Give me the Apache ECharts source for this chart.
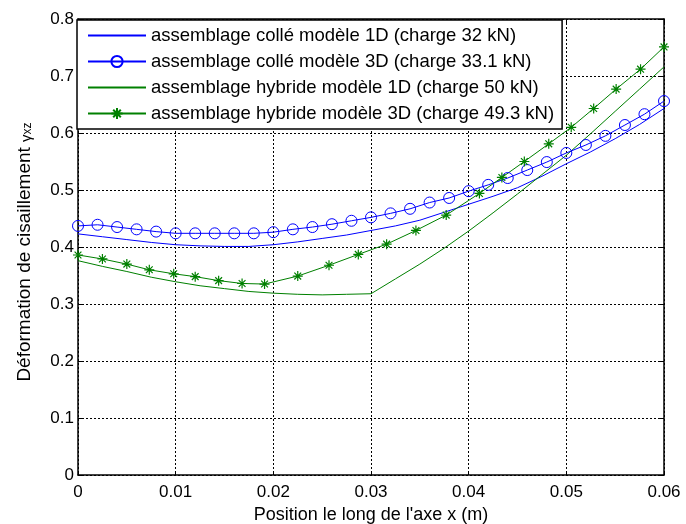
<!DOCTYPE html>
<html>
<head>
<meta charset="utf-8">
<script src="https://cdn.jsdelivr.net/npm/echarts@6/dist/echarts.min.js"></script>
<style>html,body{margin:0;padding:0;background:#fff;}#c{width:686px;height:524px;}</style>
</head>
<body>
<div id="c"></div>
<script>
const xTickLabels = ['0','0.01','0.02','0.03','0.04','0.05','0.06'];
const yTickLabels = ['0','0.1','0.2','0.3','0.4','0.5','0.6','0.7','0.8'];

const seriesNames = [
  'assemblage collé modèle 1D (charge 32 kN)',
  'assemblage collé modèle 3D (charge 33.1 kN)',
  'assemblage hybride modèle 1D (charge 50 kN)',
  'assemblage hybride modèle 3D (charge 49.3 kN)'
];

const colle1dX = [0,0.0025,0.005,0.0075,0.01,0.0125,0.015,0.0175,0.02,0.0225,0.025,0.0275,0.03,
                  0.0325,0.035,0.0375,0.04,0.0425,0.045,0.0475,0.05,0.0525,0.055,0.0575,0.06];
const colle1dY = [0.423,0.418,0.413,0.408,0.404,0.402,0.401,0.401,0.404,0.409,0.415,0.421,0.429,
                  0.437,0.447,0.461,0.475,0.489,0.504,0.524,0.546,0.567,0.590,0.615,0.643];

const colle3dX = [0,0.002,0.004,0.006,0.008,0.010,0.012,0.014,0.016,0.018,0.020,0.022,0.024,0.026,0.028,0.030,
                  0.032,0.034,0.036,0.038,0.040,0.042,0.044,0.046,0.048,0.050,0.052,0.054,0.056,0.058,0.060];
const colle3dY = [0.437,0.439,0.435,0.431,0.427,0.424,0.424,0.424,0.424,0.424,0.426,0.431,0.435,0.440,0.446,0.452,
                  0.459,0.467,0.478,0.486,0.498,0.509,0.521,0.535,0.549,0.565,0.579,0.595,0.614,0.633,0.656];

const hybr1dX = [0,0.0025,0.005,0.0075,0.01,0.0125,0.015,0.0175,0.02,0.0225,0.025,0.0275,0.03,
                 0.0325,0.035,0.0375,0.04,0.0425,0.045,0.0475,0.05,0.0525,0.055,0.0575,0.06];
const hybr1dY = [0.376,0.366,0.357,0.347,0.339,0.332,0.327,0.322,0.319,0.317,0.316,0.317,0.318,
                 0.344,0.370,0.398,0.428,0.460,0.493,0.527,0.561,0.599,0.638,0.677,0.716];

const hybr3dX = [0,0.0025,0.0050,0.0073,0.0098,0.0120,0.0144,0.0168,0.0191,0.0225,0.0257,0.0287,
                 0.0316,0.0346,0.0377,0.0411,0.0434,0.0457,0.0482,0.0505,0.0528,0.0551,0.0576,0.0600];
const hybr3dY = [0.386,0.379,0.370,0.360,0.353,0.348,0.341,0.336,0.335,0.349,0.368,0.387,
                 0.405,0.429,0.456,0.494,0.522,0.550,0.581,0.610,0.643,0.677,0.712,0.751];

const pairs = (xs, ys) => xs.map((x, i) => [x, ys[i]]);
const BLUE = '#0000ff', GREEN = '#008000';
const FONT = 'Liberation Sans, Arial, Helvetica, sans-serif';
const asterisk = 'path://M5,0L5,10M0,5L10,5M1.6,1.6L8.4,8.4M1.6,8.4L8.4,1.6';

const chart = echarts.init(document.getElementById('c'), null, {renderer: 'canvas'});

const axisCommon = {
  axisLine: {show: true, onZero: false, lineStyle: {color: '#000', width: 1.5}},
  axisTick: {show: true, inside: true, length: 4, lineStyle: {color: '#000', width: 1}},
};
const noMarker = {color: 'rgba(0,0,0,0)', borderWidth: 0};

chart.setOption({
  animation: false,
  backgroundColor: '#fff',
  textStyle: {fontFamily: FONT},
  grid: {left: 78, right: 22, top: 19, bottom: 49, containLabel: false, outerBoundsMode: 'none'},
  legend: {
    orient: 'vertical', left: 77, top: 20,
    itemWidth: 58, itemHeight: 14, itemGap: 7,
    padding: [6, 8, 6, 10],
    backgroundColor: '#fff', borderColor: '#000', borderWidth: 1.5, borderRadius: 0,
    textStyle: {fontFamily: FONT, fontSize: 18.5, lineHeight: 18, color: '#000'},
    data: [
      {name: seriesNames[0], itemStyle: noMarker},
      {name: seriesNames[1]},
      {name: seriesNames[2], itemStyle: noMarker},
      {name: seriesNames[3]}
    ]
  },
  xAxis: [
    Object.assign({
      type: 'value', min: 0, max: 0.06, interval: 0.01, position: 'bottom',
      axisLabel: {color: '#000', fontSize: 17, fontFamily: FONT, margin: 9,
                  formatter: v => xTickLabels[Math.round(v / 0.01)]},
      splitLine: {show: true, lineStyle: {color: '#000', type: [2, 2], width: 1}},
      name: "Position le long de l'axe x (m)", nameLocation: 'middle', nameGap: 26,
      nameTextStyle: {color: '#000', fontSize: 18, fontFamily: FONT}
    }, axisCommon),
    Object.assign({
      type: 'value', min: 0, max: 0.06, interval: 0.01, position: 'top',
      axisLabel: {show: false}, splitLine: {show: false}
    }, axisCommon)
  ],
  yAxis: [
    Object.assign({
      type: 'value', min: 0, max: 0.8, interval: 0.1, position: 'left',
      axisLabel: {color: '#000', fontSize: 17, fontFamily: FONT, margin: 4,
                  formatter: v => yTickLabels[Math.round(v / 0.1)]},
      splitLine: {show: true, lineStyle: {color: '#000', type: [2, 2], width: 1}},
      name: '{n|Déformation de cisaillement }{g|γ}{s|xz}',
      nameLocation: 'middle', nameGap: 44, nameRotate: 90,
      nameTextStyle: {
        color: '#000', fontFamily: FONT, padding: [0, 10, 0, 0],
        rich: {
          n: {fontSize: 19, fontFamily: FONT, color: '#000', lineHeight: 22, verticalAlign: 'bottom'},
          g: {fontSize: 15, fontFamily: FONT, color: '#000', lineHeight: 22, verticalAlign: 'bottom'},
          s: {fontSize: 12, fontFamily: FONT, color: '#000', lineHeight: 12, verticalAlign: 'bottom'}
        }
      }
    }, axisCommon),
    Object.assign({
      type: 'value', min: 0, max: 0.8, interval: 0.1, position: 'right',
      axisLabel: {show: false}, splitLine: {show: false}
    }, axisCommon)
  ],
  series: [
    {
      name: seriesNames[0], type: 'line', data: pairs(colle1dX, colle1dY),
      symbol: 'none',
      lineStyle: {color: BLUE, width: 1}, itemStyle: {color: BLUE}, z: 3
    },
    {
      name: seriesNames[1], type: 'line', data: pairs(colle3dX, colle3dY),
      symbol: 'circle', symbolSize: 11, showSymbol: true,
      lineStyle: {color: BLUE, width: 1},
      itemStyle: {color: 'rgba(0,0,0,0)', borderColor: BLUE, borderWidth: 1}, z: 4
    },
    {
      name: seriesNames[2], type: 'line', data: pairs(hybr1dX, hybr1dY),
      symbol: 'none',
      lineStyle: {color: GREEN, width: 1}, itemStyle: {color: GREEN}, z: 3
    },
    {
      name: seriesNames[3], type: 'line', data: pairs(hybr3dX, hybr3dY),
      symbol: asterisk, symbolSize: 10, showSymbol: true,
      lineStyle: {color: GREEN, width: 1},
      itemStyle: {color: 'rgba(0,0,0,0)', borderColor: GREEN, borderWidth: 1.2}, z: 4
    }
  ]
});
</script>
</body>
</html>
